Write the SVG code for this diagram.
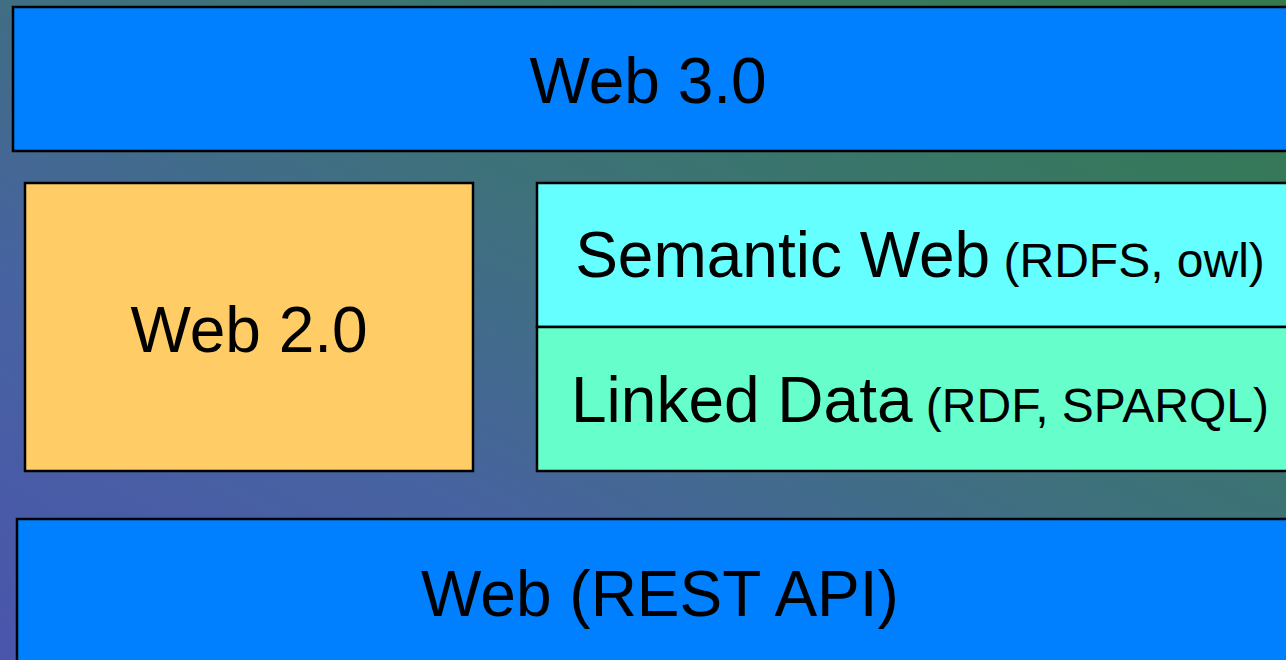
<svg xmlns="http://www.w3.org/2000/svg" width="1286" height="660" viewBox="0 0 1286 660">
  <defs>
    <linearGradient id="bg" x1="0" y1="1" x2="1" y2="0">
      <stop offset="0" stop-color="#4a55ac"/>
      <stop offset="0.3" stop-color="#4763a0"/>
      <stop offset="0.55" stop-color="#3e717c"/>
      <stop offset="0.8" stop-color="#377860"/>
      <stop offset="1" stop-color="#34794c"/>
    </linearGradient>
    <style>
      .box { stroke: #000; stroke-width: 2.5; }
      .t { font-family: "Liberation Sans", Arial, sans-serif; font-size: 64px; fill: #000; text-anchor: middle; }
      .s { font-size: 48px; }
    </style>
  </defs>
  <rect x="0" y="0" width="1286" height="660" fill="url(#bg)"/>

  <g id="web30">
    <rect class="box" x="13" y="7" width="1300" height="144" fill="#0080ff"/>
    <text class="t" x="648" y="103">Web 3.0</text>
  </g>

  <g id="web20">
    <rect class="box" x="25" y="183" width="448" height="288" fill="#ffcc66"/>
    <text class="t" x="249" y="352">Web 2.0</text>
  </g>

  <g id="semantic">
    <rect class="box" x="537" y="183" width="770" height="144" fill="#66ffff"/>
    <text class="t" x="920" y="277">Semantic Web<tspan class="s"> (RDFS, owl)</tspan></text>
  </g>

  <g id="linked">
    <rect class="box" x="537" y="327" width="770" height="144" fill="#66ffcc"/>
    <text class="t" x="920" y="422">Linked Data<tspan class="s"> (RDF, SPARQL)</tspan></text>
  </g>

  <g id="web">
    <rect class="box" x="17" y="519" width="1300" height="160" fill="#0080ff"/>
    <text class="t" x="660" y="616">Web (REST API)</text>
  </g>

  <g id="connectors"></g>
</svg>
